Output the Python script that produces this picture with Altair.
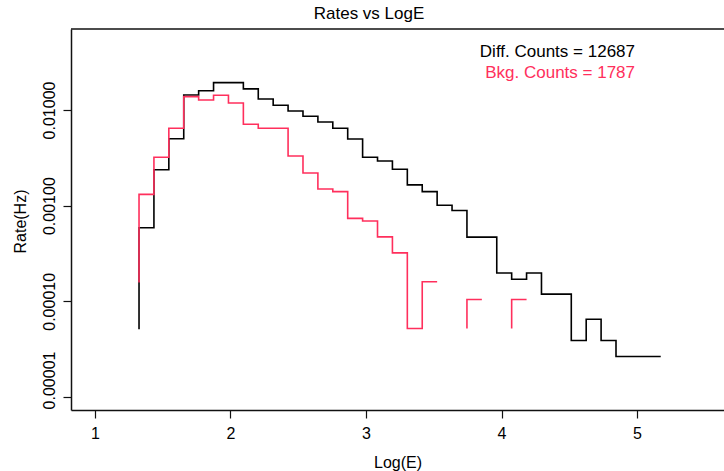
import altair as alt
import pandas as pd

# ---- data ----
bin_edges = [1.325, 1.435, 1.545, 1.655, 1.765, 1.875, 1.985, 2.095, 2.205, 2.315,
             2.425, 2.535, 2.645, 2.755, 2.865, 2.975, 3.085, 3.195, 3.305, 3.415,
             3.525, 3.635, 3.745, 3.855, 3.965, 4.075, 4.185, 4.295, 4.405, 4.515,
             4.625, 4.735, 4.845, 4.955, 5.065, 5.175]

diff_rate = [5.87e-4, 2.37e-3, 5.01e-3, 1.436e-2, 1.59e-2, 1.93e-2, 1.93e-2, 1.66e-2, 1.30e-2, 1.12e-2,
             9.76e-3, 8.59e-3, 7.49e-3, 6.43e-3, 4.97e-3, 3.20e-3, 2.93e-3, 2.40e-3, 1.65e-3, 1.40e-3,
             1.01e-3, 8.9e-4, 4.69e-4, 4.69e-4, 1.98e-4, 1.70e-4, 1.98e-4, 1.19e-4, 1.19e-4, 3.9e-5,
             6.5e-5, 3.9e-5, 2.65e-5, 2.65e-5, 2.65e-5]

bkg_rate = [1.31e-3, 3.20e-3, 6.43e-3, 1.378e-2, 1.273e-2, 1.425e-2, 1.184e-2, 7.09e-3, 6.43e-3, 6.43e-3,
            3.30e-3, 2.19e-3, 1.49e-3, 1.40e-3, 7.36e-4, 6.90e-4, 4.72e-4, 3.21e-4, 5.2e-5, 1.60e-4,
            None, None, 1.045e-4, None, None, 1.045e-4, None, None, None, None,
            None, None, None, None, None]

diff_start = 5.11e-5     # value where the black step line begins
bkg_start = 1.575e-4     # value where the red step line begins
bkg_gap_floor = 5.2e-5   # level from which the red line rises after an empty stretch

diff_counts = 12687
bkg_counts = 1787

BLACK = "#000000"
RED = "#FF2F5C"
FONT = "Liberation Sans"


def step_rows(rates, first_floor, gap_floor, name):
    rows = []
    n = len(rates)
    i = 0
    piece = 0
    while i < n:
        if rates[i] is None:
            i += 1
            continue
        j = i
        while j + 1 < n and rates[j + 1] is not None:
            j += 1
        floor = first_floor if piece == 0 else gap_floor
        pts = [(bin_edges[i], floor)]
        pts += [(bin_edges[k], rates[k]) for k in range(i, j + 1)]
        pts += [(bin_edges[j + 1], rates[j])]
        for idx, (x, y) in enumerate(pts):
            rows.append({"series": name, "piece": f"{name}{piece}", "idx": idx, "x": x, "y": y})
        piece += 1
        i = j + 1
    return rows


diff_df = pd.DataFrame(step_rows(diff_rate, diff_start, diff_start, "diff"))
bkg_df = pd.DataFrame(step_rows(bkg_rate, bkg_start, bkg_gap_floor, "bkg"))

W, H = 653, 381
xscale = alt.Scale(domain=[0.823, 5.642], nice=False, zero=False)
yscale = alt.Scale(type="log", domain=[7.31e-6, 0.0702], nice=False)

xaxis = alt.Axis(values=[1, 2, 3, 4, 5], format="d", title="Log(E)", grid=False,
                 tickSize=8, labelPadding=7, titleX=W / 2, titleY=52,
                 titleBaseline="middle", titleFontWeight="normal")
yaxis = alt.Axis(values=[0.01, 0.001, 0.0001, 0.00001], format=".5f", title="Rate(Hz)",
                 grid=False, tickSize=8, labelAngle=270, labelAlign="center",
                 labelBaseline="bottom", labelPadding=6,
                 labelOffset={"condition": {"test": "datum.value < 0.00005", "value": -17}, "value": 0},
                 titleAngle=270, titleX=-51, titleY=192, titleAlign="center",
                 titleBaseline="middle", titleFontWeight="normal")

diff_line = alt.Chart(diff_df).mark_line(interpolate="step-after", color=BLACK, strokeWidth=1.6).encode(
    x=alt.X("x:Q", scale=xscale, axis=xaxis),
    y=alt.Y("y:Q", scale=yscale, axis=yaxis),
    detail="piece:N",
    order="idx:Q",
)

bkg_line = alt.Chart(bkg_df).mark_line(interpolate="step-after", color=RED, strokeWidth=1.6).encode(
    x=alt.X("x:Q", scale=xscale),
    y=alt.Y("y:Q", scale=yscale),
    detail="piece:N",
    order="idx:Q",
)

top_border = alt.Chart(pd.DataFrame({"a": [0]})).mark_rule(color="#111111", strokeWidth=1.5).encode(
    x=alt.value(0), x2=alt.value(W), y=alt.value(0)
)

labels_df = pd.DataFrame({"t": [f"Diff. Counts = {diff_counts}"]})
diff_text = alt.Chart(labels_df).mark_text(
    align="right", baseline="middle", font=FONT, fontSize=17, color=BLACK
).encode(x=alt.value(564), y=alt.value(23), text="t:N")

bkg_df_t = pd.DataFrame({"t": [f"Bkg. Counts = {bkg_counts}"]})
bkg_text = alt.Chart(bkg_df_t).mark_text(
    align="right", baseline="middle", font=FONT, fontSize=17, color=RED
).encode(x=alt.value(564), y=alt.value(44), text="t:N")

title_df = pd.DataFrame({"t": ["Rates vs LogE"]})
title_text = alt.Chart(title_df).mark_text(
    align="center", baseline="middle", font=FONT, fontSize=17, color=BLACK
).encode(x=alt.value(298), y=alt.value(-15), text="t:N")

chart = alt.layer(diff_line, bkg_line, top_border, diff_text, bkg_text, title_text).properties(
    width=W, height=H,
    autosize=alt.AutoSizeParams(type="none"),
    padding={"left": 71, "top": 29, "right": 0, "bottom": 61},
    background="white",
).configure_view(stroke=None).configure_axis(
    labelFont=FONT, labelFontSize=16, labelColor=BLACK,
    titleFont=FONT, titleFontSize=16, titleColor=BLACK,
    domainColor="#111111", domainWidth=1.5, tickColor="#111111", tickWidth=1.2,
)

chart.save("out.html", embed_options={"renderer": "svg", "actions": False})
